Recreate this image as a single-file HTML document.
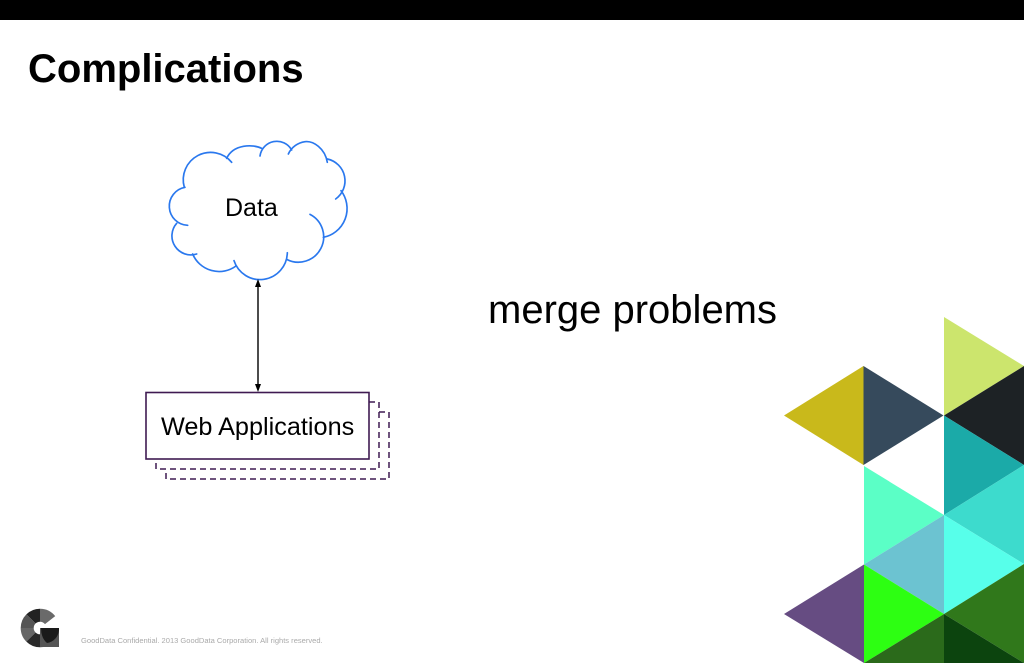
<!DOCTYPE html>
<html>
<head>
<meta charset="utf-8">
<style>
html,body{margin:0;padding:0;background:#fff;width:1024px;height:663px;overflow:hidden}
svg{display:block}
text{font-family:"Liberation Sans",sans-serif}
</style>
</head>
<body>
<svg width="1024" height="663" viewBox="0 0 1024 663" xmlns="http://www.w3.org/2000/svg">
<rect width="1024" height="663" fill="#fff"/>
<rect width="1024" height="20" fill="#000"/>
<text x="28" y="82" font-size="40" font-weight="bold" fill="#000">Complications</text>

<g transform="translate(150 130) scale(.33333)" fill="none" stroke="#2a78ee" stroke-width="5" stroke-linecap="round">
<path d="M245,97 A82,82 0 0 0 103,172"/>
<path d="M105,172 A57.5,57.5 0 0 0 113,286"/>
<path d="M80,280 A57,57 0 0 0 140,372"/>
<path d="M128,372 A86,86 0 0 0 258,408"/>
<path d="M252,392 A82,82 0 0 0 412,368"/>
<path d="M410,388 A72,72 0 0 0 480,253"/>
<path d="M520,322 A88,88 0 0 0 573,182"/>
<path d="M532,87 A67,67 0 0 1 557,207"/>
<path d="M532,97 C525,55 490,32 465,35 C445,38 425,50 415,72"/>
<path d="M425,60 A51,51 0 0 0 330,78"/>
<path d="M335,55 C310,42 250,42 230,85"/>
</g>
<text x="225" y="216" font-size="25" fill="#000">Data</text>

<line x1="258" y1="286" x2="258" y2="386" stroke="#000" stroke-width="1.4"/>
<polygon points="258,279 255,287 261,287" fill="#000"/>
<polygon points="258,392 255,384 261,384" fill="#000"/>

<g fill="none" stroke="#3f1a52" stroke-width="1.5" stroke-dasharray="6 4">
<path d="M369,402 H379 V469 H156 V459"/>
<path d="M379,412 H389 V479 H166 V469"/>
</g>
<rect x="146" y="392.5" width="223" height="66.5" fill="#fff" stroke="#3f1a52" stroke-width="1.6"/>
<text x="161" y="435" font-size="25.25" fill="#000">Web Applications</text>

<text x="488" y="323" font-size="40" fill="#000">merge problems</text>

<polygon points="944,317 1024,366 944,415.5" fill="#cce56d"/>
<polygon points="784,415.5 863.5,366 863.5,465" fill="#c9b91b"/>
<polygon points="863.5,366 943.5,415.5 863.5,465" fill="#364a5c"/>
<polygon points="944,415.5 1024,366 1024,465" fill="#1d2225"/>
<polygon points="944,415.5 1024,465 944,515" fill="#1baaa8"/>
<polygon points="1024,465 1024,564 944,515" fill="#3ddbcd"/>
<polygon points="864,466 944,515 864,564.5" fill="#5bffc6"/>
<polygon points="944,515 944,614 864,564.5" fill="#6cc3d1"/>
<polygon points="944,515 1024,564 944,614" fill="#57ffea"/>
<polygon points="784,614 864,564.5 864,663" fill="#664c82"/>
<polygon points="864,564.5 944,614 864,663" fill="#2dff12"/>
<polygon points="944,614 1024,564 1024,663" fill="#30781b"/>
<polygon points="864,663 944,614 944,663" fill="#2b6a1b"/>
<polygon points="944,614 1024,663 944,663" fill="#0c440e"/>

<g fill="none" stroke-width="13">
<g transform="rotate(-90 40 628)">
<circle cx="40" cy="628" r="12.8" pathLength="360" stroke="#6a6a6a" stroke-dasharray="52 308"/>
<circle cx="40" cy="628" r="12.8" pathLength="360" stroke="#222" stroke-dasharray="45 315" stroke-dashoffset="45"/>
<circle cx="40" cy="628" r="12.8" pathLength="360" stroke="#555" stroke-dasharray="45 315" stroke-dashoffset="90"/>
<circle cx="40" cy="628" r="12.8" pathLength="360" stroke="#666" stroke-dasharray="45 315" stroke-dashoffset="135"/>
<circle cx="40" cy="628" r="12.8" pathLength="360" stroke="#2a2a2a" stroke-dasharray="45 315" stroke-dashoffset="180"/>
<circle cx="40" cy="628" r="12.8" pathLength="360" stroke="#444" stroke-dasharray="45 315" stroke-dashoffset="225"/>
</g>
</g>
<rect x="40" y="628" width="19" height="19" fill="#555"/>
<path d="M41,628 H59 V630 A14,14 0 0 1 47,643 Q41,638 41,628 Z" fill="#1a1a1a"/>
<text x="81" y="643" font-size="7.55" fill="#aaa">GoodData Confidential. 2013 GoodData Corporation. All rights reserved.</text>
</svg>
</body>
</html>
